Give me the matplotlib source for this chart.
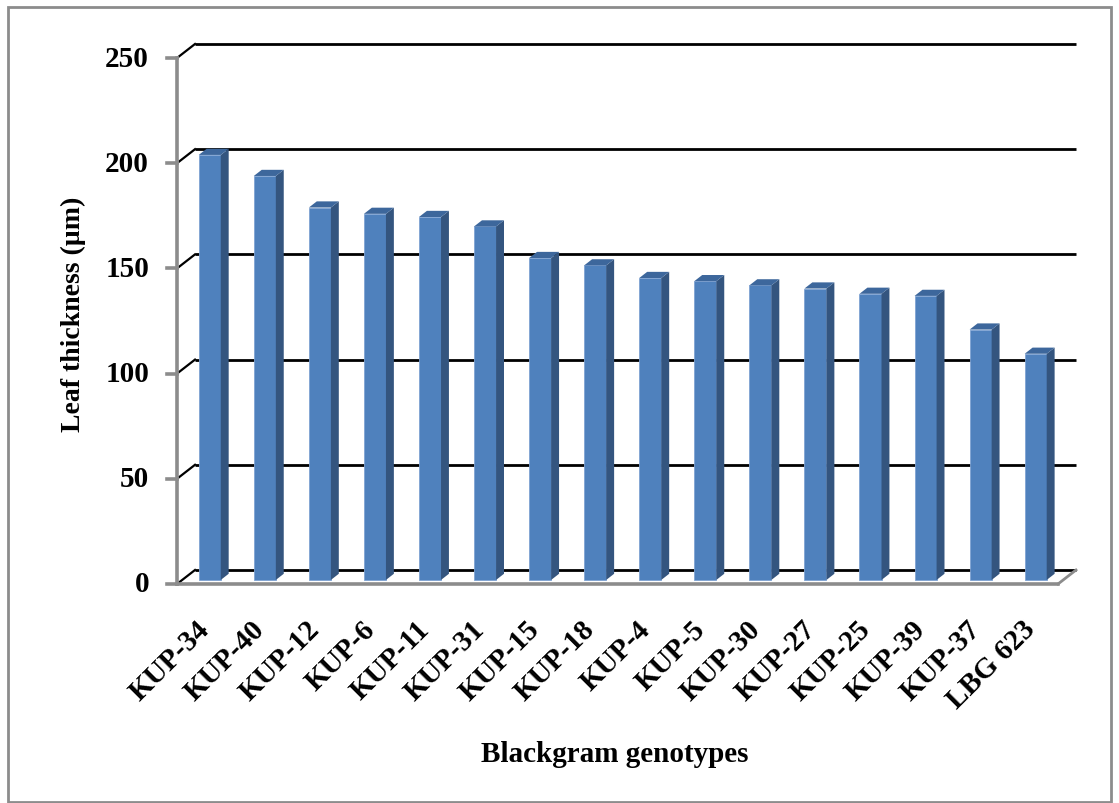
import matplotlib
matplotlib.use("Agg")
import matplotlib.pyplot as plt
from matplotlib.patches import Polygon, Rectangle

# Leaf thickness of blackgram genotypes (µm)
genotypes = ["KUP-34", "KUP-40", "KUP-12", "KUP-6", "KUP-11", "KUP-31", "KUP-15", "KUP-18",
             "KUP-4", "KUP-5", "KUP-30", "KUP-27", "KUP-25", "KUP-39", "KUP-37", "LBG 623"]
thickness = [202, 192, 177, 174, 172.5, 168, 153, 149.5,
             143.5, 142, 140, 138.5, 136, 135, 119, 107.5]
y_ticks = [0, 50, 100, 150, 200, 250]

plt.rcParams["font.family"] = ["Liberation Serif", "DejaVu Serif"]
plt.rcParams["font.weight"] = "bold"

W, H = 1119, 804
fig = plt.figure(figsize=(W / 100, H / 100), dpi=100)

# front plane of the 3-D box in pixels
X0, X1 = 177, 1058
YB, YT = 585, 59
ax = fig.add_axes([X0 / W, 1 - YB / H, (X1 - X0) / W, (YB - YT) / H])
n = len(genotypes)
ax.set_xlim(0, n)
ax.set_ylim(0, 250)
ax.axis("off")

px_x = (X1 - X0) / n          # pixels per category
px_y = (YB - YT) / 250.0      # pixels per unit
DX = 18 / px_x                # full depth offset (data units)
DY = 14 / px_y


def proj(x, y, d):
    return x + d * DX, y + d * DY


# back-wall gridlines and left side-wall diagonals
for v in y_ticks:
    xa, ya = proj(0, v, 1)
    xb, yb = proj(n, v, 1)
    ax.plot([xa, xb], [ya, yb], color="black", lw=2.0, clip_on=False, zorder=1,
            solid_capstyle="butt")
    ax.plot([0, xa], [v, ya], color="black", lw=1.6, clip_on=False, zorder=1)

# floor edges
ax.plot([0, n], [0, 0], color="#8c8c8c", lw=2.6, clip_on=False, zorder=1)
xr, yr = proj(n, 0, 1)
ax.plot([n, xr], [0, yr], color="#8c8c8c", lw=2.0, clip_on=False, zorder=1)

# value axis line and ticks
ax.plot([0, 0], [0, 250], color="#8c8c8c", lw=2.6, clip_on=False, zorder=2)
for v in y_ticks:
    ax.plot([-10 / px_x, 0], [v, v], color="#8c8c8c", lw=2.6, clip_on=False, zorder=2)
    ax.text(-28 / px_x, v, str(v), ha="right", va="center", fontsize=21,
            fontweight="bold", clip_on=False)

# 3-D columns
f0, f1 = 0.29, 0.73
bw = 0.40
front_c, side_c, top_c = "#4F81BD", "#34557F", "#3D679C"
centers = [i + 0.5 for i in range(n)]
xs = [c - bw / 2 + f0 * DX for c in centers]
ax.bar(xs, thickness, width=bw, bottom=f0 * DY, align="edge", color=front_c,
       edgecolor="#7fa3d3", linewidth=0.6, zorder=3, clip_on=False)
for c, v in zip(centers, thickness):
    l, r = c - bw / 2, c + bw / 2
    side = [proj(r, 0, f0), proj(r, 0, f1), proj(r, v, f1), proj(r, v, f0)]
    top = [proj(l, v, f0), proj(r, v, f0), proj(r, v, f1), proj(l, v, f1)]
    ax.add_patch(Polygon(side, closed=True, facecolor=side_c, edgecolor="none",
                         zorder=3, clip_on=False))
    ax.add_patch(Polygon(top, closed=True, facecolor=top_c, edgecolor="none",
                         zorder=3, clip_on=False))

# category labels
for c, name in zip(centers, genotypes):
    ax.text(c - 0.16, -31 / px_y, name, rotation=45, rotation_mode="anchor",
            ha="right", va="top", fontsize=21, fontweight="bold", clip_on=False)

# axis titles
fig.text(615 / W, 1 - 755 / H, "Blackgram genotypes", ha="center", va="center",
         fontsize=21, fontweight="bold")
fig.text(73 / W, 1 - 314 / H, "Leaf thickness (µm)", ha="center", va="center",
         rotation=90, fontsize=20, fontweight="bold")

# chart-area border
fig.add_artist(Rectangle((8 / W, 1 / H), (W - 16) / W, (H - 9) / H, transform=fig.transFigure,
                         fill=False, edgecolor="#8c8c8c", lw=2.0))

fig.savefig("out.png", dpi=100, facecolor="white")
